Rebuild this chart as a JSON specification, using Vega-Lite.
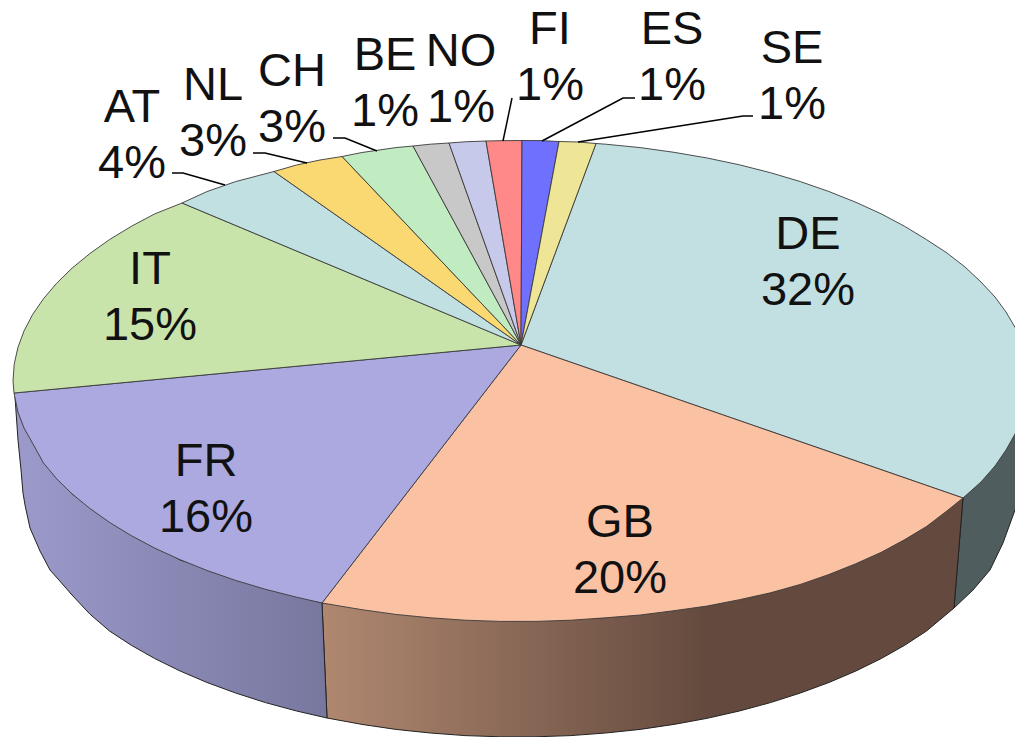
{"$schema":"https://vega.github.io/schema/vega-lite/v6.json","width":1015,"height":737,"padding":0,"autosize":{"type":"none"},"background":"white","view":{"stroke":null},
"datasets":{
"walls":[
{"slice":"DE","i":1,"x":963,"y":498},{"slice":"DE","i":2,"x":1005,"y":450},{"slice":"DE","i":3,"x":1023,"y":381},{"slice":"DE","i":4,"x":1030,"y":381},{"slice":"DE","i":5,"x":1030,"y":495},{"slice":"DE","i":6,"x":1015,"y":510},{"slice":"DE","i":7,"x":1003,"y":543},{"slice":"DE","i":8,"x":990,"y":570},{"slice":"DE","i":9,"x":973,"y":590},{"slice":"DE","i":10,"x":954,"y":608},{"slice":"DE","i":11,"x":963,"y":498},
{"slice":"GB","i":1,"x":963,"y":498},{"slice":"GB","i":2,"x":800,"y":584},{"slice":"GB","i":3,"x":600,"y":618},{"slice":"GB","i":4,"x":322,"y":603},{"slice":"GB","i":5,"x":327,"y":718},{"slice":"GB","i":6,"x":362,"y":724.4},{"slice":"GB","i":7,"x":395.8,"y":729.4},{"slice":"GB","i":8,"x":430.3,"y":733},{"slice":"GB","i":9,"x":465.2,"y":735.6},{"slice":"GB","i":10,"x":500.4,"y":736.8},{"slice":"GB","i":11,"x":535.6,"y":736.8},{"slice":"GB","i":12,"x":570.8,"y":735.6},{"slice":"GB","i":13,"x":605.7,"y":733},{"slice":"GB","i":14,"x":640.2,"y":729.4},{"slice":"GB","i":15,"x":674,"y":724.4},{"slice":"GB","i":16,"x":707.2,"y":718.3},{"slice":"GB","i":17,"x":739.4,"y":711},{"slice":"GB","i":18,"x":770.5,"y":702.6},{"slice":"GB","i":19,"x":800.4,"y":693},{"slice":"GB","i":20,"x":828.9,"y":682.5},{"slice":"GB","i":21,"x":855.9,"y":671},{"slice":"GB","i":22,"x":881.3,"y":658.5},{"slice":"GB","i":23,"x":904.8,"y":645.2},{"slice":"GB","i":24,"x":926.5,"y":631},{"slice":"GB","i":25,"x":954,"y":608},{"slice":"GB","i":26,"x":963,"y":498},
{"slice":"FR","i":1,"x":322,"y":603},{"slice":"FR","i":2,"x":180,"y":560},{"slice":"FR","i":3,"x":72,"y":494},{"slice":"FR","i":4,"x":15,"y":397},{"slice":"FR","i":5,"x":18,"y":440},{"slice":"FR","i":6,"x":21,"y":470},{"slice":"FR","i":7,"x":23,"y":493},{"slice":"FR","i":8,"x":25,"y":505},{"slice":"FR","i":9,"x":30,"y":528},{"slice":"FR","i":10,"x":40,"y":551},{"slice":"FR","i":11,"x":50,"y":570},{"slice":"FR","i":12,"x":58,"y":579},{"slice":"FR","i":13,"x":72,"y":595},{"slice":"FR","i":14,"x":89.8,"y":614},{"slice":"FR","i":15,"x":109.5,"y":631},{"slice":"FR","i":16,"x":131.2,"y":645.2},{"slice":"FR","i":17,"x":154.7,"y":658.5},{"slice":"FR","i":18,"x":180.1,"y":671},{"slice":"FR","i":19,"x":207.1,"y":682.5},{"slice":"FR","i":20,"x":235.6,"y":693},{"slice":"FR","i":21,"x":265.5,"y":702.6},{"slice":"FR","i":22,"x":296.6,"y":711},{"slice":"FR","i":23,"x":327,"y":718},{"slice":"FR","i":24,"x":322,"y":603}
],
"slices":[
{"slice":"DE","i":0,"x":521,"y":345},{"slice":"DE","i":1,"x":596,"y":143.5},{"slice":"DE","i":2,"x":605.7,"y":144.2},{"slice":"DE","i":3,"x":640.2,"y":147.6},{"slice":"DE","i":4,"x":674,"y":152.3},{"slice":"DE","i":5,"x":707.2,"y":158},{"slice":"DE","i":6,"x":739.4,"y":164.8},{"slice":"DE","i":7,"x":770.5,"y":172.7},{"slice":"DE","i":8,"x":800.4,"y":181.6},{"slice":"DE","i":9,"x":828.9,"y":191.5},{"slice":"DE","i":10,"x":855.9,"y":202.3},{"slice":"DE","i":11,"x":881.3,"y":213.9},{"slice":"DE","i":12,"x":904.8,"y":226.4},{"slice":"DE","i":13,"x":926.5,"y":239.6},{"slice":"DE","i":14,"x":947,"y":253},{"slice":"DE","i":15,"x":965,"y":267},{"slice":"DE","i":16,"x":981,"y":282},{"slice":"DE","i":17,"x":995,"y":297},{"slice":"DE","i":18,"x":1006,"y":312},{"slice":"DE","i":19,"x":1016,"y":329},{"slice":"DE","i":20,"x":1022,"y":347},{"slice":"DE","i":21,"x":1025,"y":364},{"slice":"DE","i":22,"x":1026,"y":381},{"slice":"DE","i":23,"x":1025,"y":398},{"slice":"DE","i":24,"x":1022,"y":415},{"slice":"DE","i":25,"x":1015,"y":434},{"slice":"DE","i":26,"x":1006,"y":450},{"slice":"DE","i":27,"x":995,"y":466},{"slice":"DE","i":28,"x":981,"y":482},{"slice":"DE","i":29,"x":963,"y":498},{"slice":"DE","i":30,"x":521,"y":345},
{"slice":"GB","i":0,"x":521,"y":345},{"slice":"GB","i":1,"x":963,"y":498},{"slice":"GB","i":2,"x":946.2,"y":511.5},{"slice":"GB","i":3,"x":926.5,"y":526.5},{"slice":"GB","i":4,"x":904.8,"y":539.6},{"slice":"GB","i":5,"x":881.3,"y":552.3},{"slice":"GB","i":6,"x":855.9,"y":563.7},{"slice":"GB","i":7,"x":828.9,"y":574.5},{"slice":"GB","i":8,"x":800.4,"y":584.4},{"slice":"GB","i":9,"x":770.5,"y":592.8},{"slice":"GB","i":10,"x":739.4,"y":599.7},{"slice":"GB","i":11,"x":707.2,"y":606},{"slice":"GB","i":12,"x":674,"y":610.7},{"slice":"GB","i":13,"x":640.2,"y":615},{"slice":"GB","i":14,"x":605.7,"y":617.8},{"slice":"GB","i":15,"x":570.8,"y":620.2},{"slice":"GB","i":16,"x":535.6,"y":621.4},{"slice":"GB","i":17,"x":500.4,"y":621.4},{"slice":"GB","i":18,"x":465.2,"y":620.2},{"slice":"GB","i":19,"x":430.3,"y":617.8},{"slice":"GB","i":20,"x":395.8,"y":614.4},{"slice":"GB","i":21,"x":362,"y":609.7},{"slice":"GB","i":22,"x":322,"y":603},{"slice":"GB","i":23,"x":521,"y":345},
{"slice":"FR","i":0,"x":521,"y":345},{"slice":"FR","i":1,"x":322,"y":603},{"slice":"FR","i":2,"x":296.6,"y":597.2},{"slice":"FR","i":3,"x":265.5,"y":589.3},{"slice":"FR","i":4,"x":235.6,"y":580.4},{"slice":"FR","i":5,"x":207.1,"y":570.5},{"slice":"FR","i":6,"x":180.1,"y":559.7},{"slice":"FR","i":7,"x":154.7,"y":548.1},{"slice":"FR","i":8,"x":131.2,"y":535.6},{"slice":"FR","i":9,"x":109.5,"y":522.4},{"slice":"FR","i":10,"x":89.8,"y":508.4},{"slice":"FR","i":11,"x":72.1,"y":493.9},{"slice":"FR","i":12,"x":56.7,"y":478.8},{"slice":"FR","i":13,"x":43.5,"y":463},{"slice":"FR","i":14,"x":33,"y":444},{"slice":"FR","i":15,"x":24,"y":428},{"slice":"FR","i":16,"x":17.9,"y":412},{"slice":"FR","i":17,"x":14,"y":393},{"slice":"FR","i":18,"x":521,"y":345},
{"slice":"IT","i":0,"x":521,"y":345},{"slice":"IT","i":1,"x":14,"y":393},{"slice":"IT","i":2,"x":13,"y":381},{"slice":"IT","i":3,"x":14.2,"y":364.2},{"slice":"IT","i":4,"x":17.9,"y":347.5},{"slice":"IT","i":5,"x":24,"y":331},{"slice":"IT","i":6,"x":32.5,"y":314.7},{"slice":"IT","i":7,"x":43.5,"y":298.7},{"slice":"IT","i":8,"x":56.7,"y":283.2},{"slice":"IT","i":9,"x":72.1,"y":268.1},{"slice":"IT","i":10,"x":89.8,"y":253.6},{"slice":"IT","i":11,"x":109.5,"y":239.6},{"slice":"IT","i":12,"x":131.2,"y":226.4},{"slice":"IT","i":13,"x":154.7,"y":213.9},{"slice":"IT","i":14,"x":182,"y":203},{"slice":"IT","i":15,"x":521,"y":345},
{"slice":"AT","i":0,"x":521,"y":345},{"slice":"AT","i":1,"x":182,"y":203},{"slice":"AT","i":2,"x":207.1,"y":191.5},{"slice":"AT","i":3,"x":235.6,"y":181.6},{"slice":"AT","i":4,"x":274,"y":171.5},{"slice":"AT","i":5,"x":521,"y":345},
{"slice":"NL","i":0,"x":521,"y":345},{"slice":"NL","i":1,"x":274,"y":171.5},{"slice":"NL","i":2,"x":296.6,"y":165},{"slice":"NL","i":3,"x":320,"y":160},{"slice":"NL","i":4,"x":342,"y":156.5},{"slice":"NL","i":5,"x":521,"y":345},
{"slice":"CH","i":0,"x":521,"y":345},{"slice":"CH","i":1,"x":342,"y":156.5},{"slice":"CH","i":2,"x":362,"y":152.5},{"slice":"CH","i":3,"x":395.8,"y":147.6},{"slice":"CH","i":4,"x":413,"y":146},{"slice":"CH","i":5,"x":521,"y":345},
{"slice":"BE","i":0,"x":521,"y":345},{"slice":"BE","i":1,"x":413,"y":146},{"slice":"BE","i":2,"x":430.3,"y":144.2},{"slice":"BE","i":3,"x":449,"y":143},{"slice":"BE","i":4,"x":521,"y":345},
{"slice":"NO","i":0,"x":521,"y":345},{"slice":"NO","i":1,"x":449,"y":143},{"slice":"NO","i":2,"x":465.2,"y":141.8},{"slice":"NO","i":3,"x":486,"y":141},{"slice":"NO","i":4,"x":521,"y":345},
{"slice":"FI","i":0,"x":521,"y":345},{"slice":"FI","i":1,"x":486,"y":141},{"slice":"FI","i":2,"x":500,"y":140.7},{"slice":"FI","i":3,"x":522,"y":140.5},{"slice":"FI","i":4,"x":521,"y":345},
{"slice":"ES","i":0,"x":521,"y":345},{"slice":"ES","i":1,"x":522,"y":140.5},{"slice":"ES","i":2,"x":540,"y":140.6},{"slice":"ES","i":3,"x":559,"y":141.5},{"slice":"ES","i":4,"x":521,"y":345},
{"slice":"SE","i":0,"x":521,"y":345},{"slice":"SE","i":1,"x":559,"y":141.5},{"slice":"SE","i":2,"x":578,"y":142},{"slice":"SE","i":3,"x":596,"y":143.5},{"slice":"SE","i":4,"x":521,"y":345}
],
"leaders":[
{"slice":"AT","i":1,"x":172,"y":173},{"slice":"AT","i":2,"x":183,"y":173},{"slice":"AT","i":3,"x":225,"y":185},
{"slice":"NL","i":1,"x":253,"y":153},{"slice":"NL","i":2,"x":265,"y":153},{"slice":"NL","i":3,"x":307,"y":163},
{"slice":"CH","i":1,"x":333,"y":138},{"slice":"CH","i":2,"x":345,"y":138},{"slice":"CH","i":3,"x":377,"y":151},
{"slice":"FI","i":1,"x":512,"y":98},{"slice":"FI","i":2,"x":503,"y":141},
{"slice":"ES","i":1,"x":635,"y":98},{"slice":"ES","i":2,"x":623,"y":98},{"slice":"ES","i":3,"x":542,"y":141},
{"slice":"SE","i":1,"x":753,"y":116},{"slice":"SE","i":2,"x":743,"y":116},{"slice":"SE","i":3,"x":578,"y":142}
],
"labels":[
{"label":"DE\n32%","x":808,"y":249},{"label":"GB\n20%","x":620,"y":537},{"label":"FR\n16%","x":206,"y":476},{"label":"IT\n15%","x":150,"y":284},{"label":"AT\n4%","x":132,"y":122},{"label":"NL\n3%","x":213,"y":100},{"label":"CH\n3%","x":292,"y":86},{"label":"BE\n1%","x":385,"y":70},{"label":"NO\n1%","x":461,"y":66},{"label":"FI\n1%","x":550,"y":44},{"label":"ES\n1%","x":672,"y":44},{"label":"SE\n1%","x":792,"y":63}
]},
"encoding":{
"x":{"field":"x","type":"quantitative","axis":null,"scale":{"domain":[0,1015],"nice":false,"zero":false}},
"y":{"field":"y","type":"quantitative","axis":null,"scale":{"domain":[737,0],"nice":false,"zero":false}}
},
"layer":[
{"data":{"name":"walls"},"transform":[{"filter":"datum.slice==='DE'"}],"mark":{"type":"line","clip":true,"fill":"#4F5D5E","stroke":"#222","strokeWidth":1},"encoding":{"order":{"field":"i","type":"quantitative"}}},
{"data":{"name":"walls"},"transform":[{"filter":"datum.slice==='GB'"}],"mark":{"type":"line","clip":true,"stroke":"#222","strokeWidth":1,"fill":{"gradient":"linear","x1":0,"x2":1,"y1":0,"y2":0,"stops":[{"offset":0,"color":"#B08870"},{"offset":0.6,"color":"#644A3E"},{"offset":1,"color":"#644A3E"}]}},"encoding":{"order":{"field":"i","type":"quantitative"}}},
{"data":{"name":"walls"},"transform":[{"filter":"datum.slice==='FR'"}],"mark":{"type":"line","clip":true,"stroke":"#222","strokeWidth":1,"fill":{"gradient":"linear","x1":0,"x2":1,"y1":0,"y2":0,"stops":[{"offset":0,"color":"#9B9ACB"},{"offset":1,"color":"#77779E"}]}},"encoding":{"order":{"field":"i","type":"quantitative"}}},
{"data":{"name":"slices"},"mark":{"type":"line","clip":true,"stroke":"#3a3a3a","strokeWidth":0.9},"encoding":{"order":{"field":"i","type":"quantitative"},"fill":{"field":"slice","type":"nominal","legend":null,"scale":{"domain":["DE","GB","FR","IT","AT","NL","CH","BE","NO","FI","ES","SE"],"range":["#C2E0E2","#FBC1A3","#ABA9E0","#C9E4AB","#C0E0E2","#FAD872","#C1EBC0","#C8C8C8","#C7C9EA","#FF8888","#7070FF","#EEE596"]}}}},
{"data":{"name":"leaders"},"mark":{"type":"line","stroke":"#000","strokeWidth":1.5},"encoding":{"detail":{"field":"slice"},"order":{"field":"i","type":"quantitative"}}},
{"data":{"name":"labels"},"mark":{"type":"text","font":"Liberation Sans","fontSize":47,"align":"center","baseline":"alphabetic","lineBreak":"\n","lineHeight":56,"fill":"#111"},"encoding":{"text":{"field":"label"}}}
]}
